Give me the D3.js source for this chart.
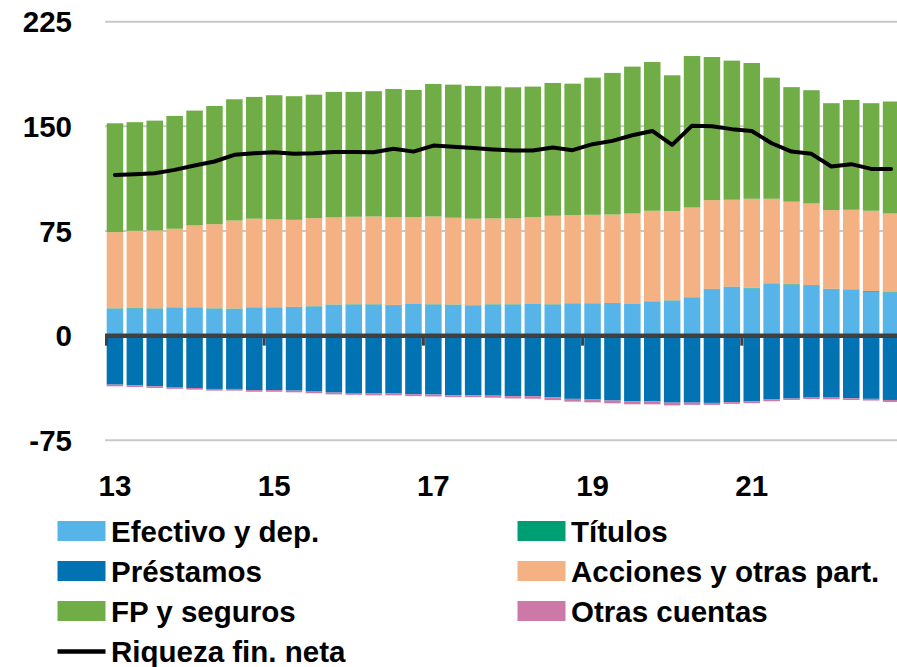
<!DOCTYPE html>
<html>
<head>
<meta charset="utf-8">
<script src="https://cdn.jsdelivr.net/npm/d3@7/dist/d3.min.js"></script>
<style>
  html, body { margin: 0; padding: 0; background: #fff; }
  svg { display: block; font-family: "Liberation Sans", Arial, sans-serif; font-weight: bold; }
</style>
</head>
<body>
<svg id="chart" width="897" height="667"></svg>
<script>
// ---- Data (quarterly, 2013Q1 - 2022Q4) ----
const quarters = d3.range(40).map(i => `${13 + Math.floor(i / 4)}Q${(i % 4) + 1}`);
const yearLabels = ["13", "15", "17", "19", "21"];
const yTicks = [-75, 0, 75, 150, 225];

const efectivo = [19.3,19.5,19.3,20,20,19.3,19.1,20,20,20.3,20.8,22,22.2,22.2,21.7,22.7,22.2,22,21.5,22.2,
                  22.2,22.7,22.2,22.9,22.9,23.1,22.7,24.3,25,27.2,33.2,34.8,33.9,37.2,36.5,35.8,33.2,32.7,31.5,31];
const titulos = [0.3,0.3,0.3,0.3,0.3,0.3,0.3,0.3,0.3,0.3,0.3,0.3,0.3,0.3,0.3,0.3,0.3,0.3,0.3,0.3,
                 0.3,0.3,0.3,0.3,0.3,0.3,0.3,0.3,0.3,0.3,0.3,0.3,0.3,0.3,0.4,0.4,0.4,0.4,0.5,0.6];
const acciones = [54.6,55.4,55.8,56.3,58.7,60.3,63.1,63.5,63.0,62.4,63.1,62.4,62.7,62.9,63.0,62.0,62.9,62.2,62.0,61.5,
                  61.5,62.0,63.4,63.2,63.4,63.4,64.5,64.9,64.0,64.3,63.6,62.3,63.9,60.6,59.1,58.5,56.4,57.1,57.5,55.9];
const fpSeguros = [78.0,77.8,78.7,80.9,82.3,84.7,86.9,87.3,89.0,88.6,88.5,90.0,89.5,89.8,91.8,91.1,95.0,95.4,95.2,94.7,
                   94.0,93.5,95.2,94.2,98.3,101.5,105.3,106.6,97.3,108.6,102.6,99.7,97.3,86.8,82.1,81.2,76.6,78.7,77.1,80.3];
const prestamos = [-35.1,-35.6,-36.3,-36.8,-37.5,-38.2,-38.2,-39,-39,-39.4,-40.1,-40.8,-41.1,-41.5,-41.5,-42,-42.2,-42.7,-42.7,-43,
                   -43.4,-43.4,-44.2,-45.3,-45.8,-46.5,-47.2,-47.2,-48,-48,-48.2,-47.7,-47.2,-45.8,-45.1,-44.4,-44.4,-44.9,-45.3,-46.1];
const otras = [-1.2,-1.2,-1.2,-1.3,-1.2,-1.2,-1.2,-1.2,-1.2,-1.2,-1.2,-1.3,-1.3,-1.3,-1.3,-1.3,-1.4,-1.4,-1.4,-1.5,
               -1.6,-1.8,-2,-2,-2,-2,-2,-2,-2,-1.6,-1.4,-1.2,-1.2,-1.2,-1,-1,-1.2,-1.2,-1.2,-1.4];
const riqueza = [115.2,115.7,116.4,118.8,121.9,124.8,129.6,130.8,131.5,130.3,130.8,131.7,131.7,131.5,133.9,131.9,136.2,135.3,134.4,133.4,
                 132.7,132.7,134.8,132.9,137.2,139.6,143.6,146.7,136.7,150.5,150.1,148,146.7,137.9,131.9,130.3,121.2,122.9,119.5,119.5];

const seriesNames = ["Efectivo y dep.", "Títulos", "Acciones y otras part.", "FP y seguros", "Préstamos", "Otras cuentas"];
const seriesColors = ["#56B4E9", "#009E73", "#F4B183", "#70AD47", "#0173B2", "#CC79A7"];
const lineName = "Riqueza fin. neta";

// ---- Layout ----
const svg = d3.select("#chart");
const plotLeft = 105, plotRight = 901;
const x = d3.scaleBand().domain(quarters).range([plotLeft, plotRight]).paddingInner(0.17).paddingOuter(0.085);
const y = d3.scaleLinear().domain([-75, 225]).range([440.3, 21.7]);
const step = x.step();

// gridlines
svg.append("g").selectAll("line").data(yTicks.filter(d => d !== 0)).join("line")
  .attr("x1", plotLeft).attr("x2", 897)
  .attr("y1", d => y(d)).attr("y2", d => y(d))
  .attr("stroke", "#c9c9c9").attr("stroke-width", 2);

// y labels
svg.append("g").selectAll("text").data(yTicks).join("text")
  .attr("x", 72).attr("y", d => y(d) + 10.5)
  .attr("text-anchor", "end").attr("font-size", 29.5).attr("fill", "#000")
  .text(d => d);

// stacked bars
const rows = quarters.map((q, i) => ({
  q,
  pos: [efectivo[i], titulos[i], acciones[i], fpSeguros[i]],
  neg: [prestamos[i], otras[i]]
}));
const barData = [];
rows.forEach(r => {
  let acc = 0;
  r.pos.forEach((v, k) => { barData.push({q: r.q, y0: acc, y1: acc + v, c: seriesColors[k]}); acc += v; });
  acc = 0;
  r.neg.forEach((v, k) => { barData.push({q: r.q, y0: acc, y1: acc + v, c: seriesColors[4 + k]}); acc += v; });
});
svg.append("g").selectAll("rect").data(barData).join("rect")
  .attr("x", d => x(d.q)).attr("width", x.bandwidth())
  .attr("y", d => y(Math.max(d.y0, d.y1)))
  .attr("height", d => Math.abs(y(d.y0) - y(d.y1)))
  .attr("fill", d => d.c);

// zero axis + ticks
svg.append("line").attr("x1", plotLeft).attr("x2", 897)
  .attr("y1", y(0)).attr("y2", y(0)).attr("stroke", "#404040").attr("stroke-width", 4.5);
const tickIdx = [0, 4, 8, 12, 16, 20, 24, 28, 32, 36].filter(i => i % 8 === 0);
svg.append("g").selectAll("line").data(tickIdx).join("line")
  .attr("x1", i => x(quarters[i]) - x.paddingInner() * step / 2 + (i === 0 ? 1.5 : 0))
  .attr("x2", i => x(quarters[i]) - x.paddingInner() * step / 2 + (i === 0 ? 1.5 : 0))
  .attr("y1", y(0)).attr("y2", y(0) + 10)
  .attr("stroke", "#404040").attr("stroke-width", 3);

// x labels
svg.append("g").selectAll("text").data(yearLabels).join("text")
  .attr("x", (d, k) => x(quarters[k * 8]) + x.bandwidth() / 2)
  .attr("y", 496)
  .attr("text-anchor", "middle").attr("font-size", 29.5).attr("fill", "#000")
  .text(d => d);

// line
const line = d3.line().x((d, i) => x(quarters[i]) + x.bandwidth() / 2).y(d => y(d));
svg.append("path").datum(riqueza).attr("d", line)
  .attr("fill", "none").attr("stroke", "#000").attr("stroke-width", 4)
  .attr("stroke-linejoin", "round").attr("stroke-linecap", "round");

// legend
const legendItems = [
  {name: seriesNames[0], color: seriesColors[0], col: 0, row: 0},
  {name: seriesNames[4], color: seriesColors[4], col: 0, row: 1},
  {name: seriesNames[3], color: seriesColors[3], col: 0, row: 2},
  {name: lineName, color: "#000", col: 0, row: 3, isLine: true},
  {name: seriesNames[1], color: seriesColors[1], col: 1, row: 0},
  {name: seriesNames[2], color: seriesColors[2], col: 1, row: 1},
  {name: seriesNames[5], color: seriesColors[5], col: 1, row: 2}
];
const colX = [57.5, 517.5];
const lg = svg.append("g");
legendItems.forEach(it => {
  const bx = colX[it.col], by = 521 + it.row * 40;
  if (it.isLine) {
    lg.append("line").attr("x1", bx).attr("x2", bx + 48).attr("y1", by + 10.5).attr("y2", by + 10.5)
      .attr("stroke", "#000").attr("stroke-width", 4.5);
  } else {
    lg.append("rect").attr("x", bx).attr("y", by).attr("width", 48).attr("height", 20).attr("fill", it.color);
  }
  lg.append("text").attr("x", bx + 53.5).attr("y", by + 20.5)
    .attr("font-size", 29.5).attr("fill", "#000").text(it.name);
});
</script>
</body>
</html>
